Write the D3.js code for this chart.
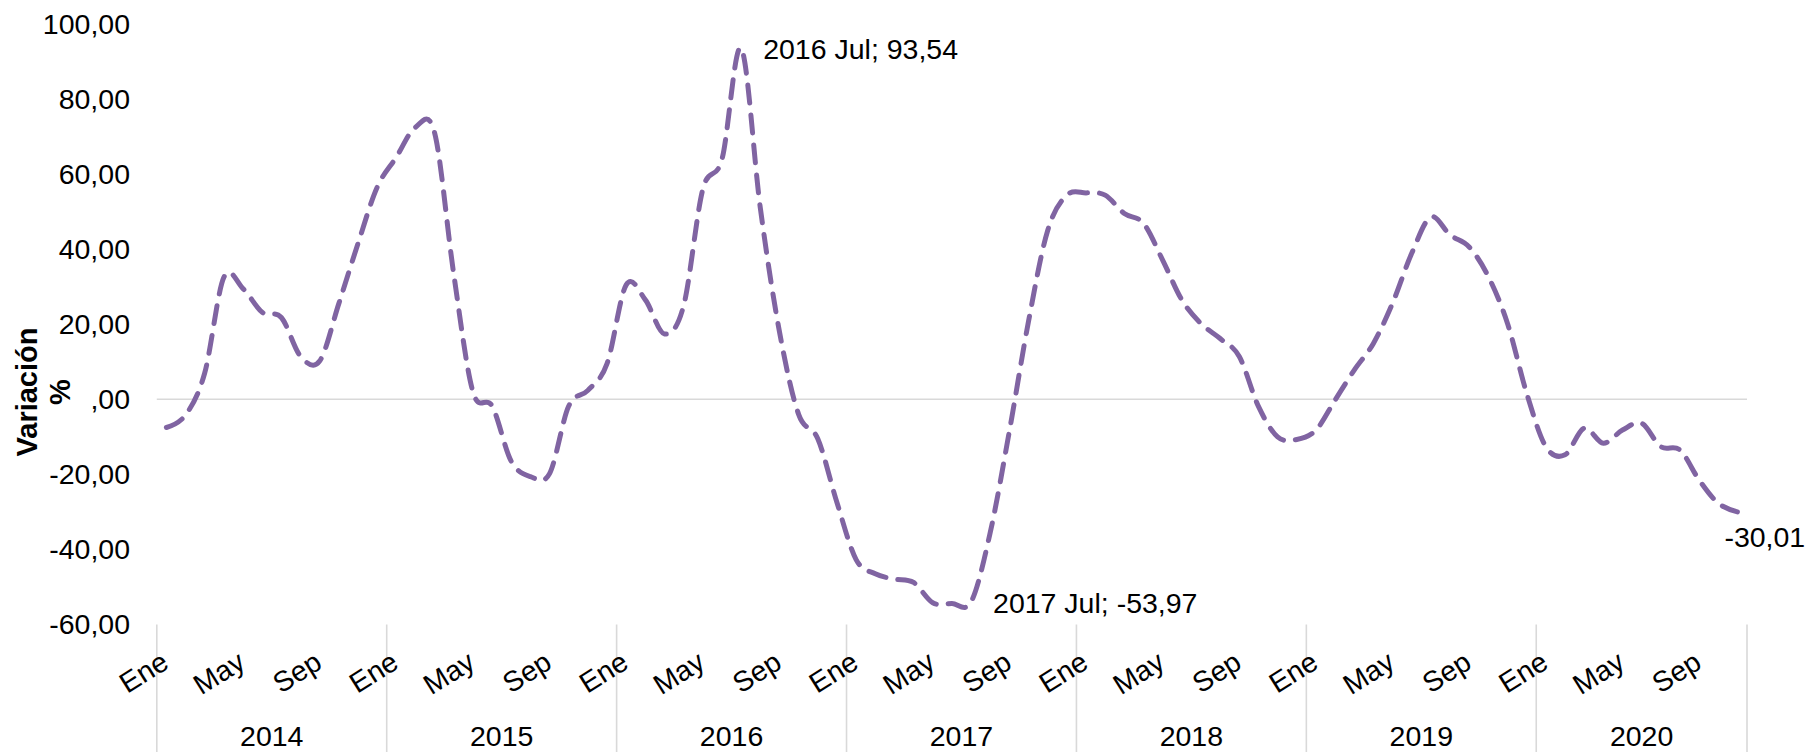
<!DOCTYPE html>
<html>
<head>
<meta charset="utf-8">
<script src="https://cdn.jsdelivr.net/npm/d3@7"></script>
<style>
  body { margin: 0; background: #fff; }
  svg text { font-family: "Liberation Sans", Arial, sans-serif; fill: #000; }
</style>
</head>
<body>
<svg id="chart" width="1808" height="752"></svg>
<script>
// data (monthly % variation)
const years = [2014, 2015, 2016, 2017, 2018, 2019, 2020];
const monthNames = ["Ene", "Feb", "Mar", "Abr", "May", "Jun", "Jul", "Ago", "Sep", "Oct", "Nov", "Dic"];
const shownMonths = ["Ene", "May", "Sep"];
const yTicks = [-60, -40, -20, 0, 20, 40, 60, 80, 100];

const v2014 = [-7.5, -4.2, 7.0, 32.5, 29.5, 23.2, 21.8, 11.5, 10.2, 25.5, 41.5, 56.5];
const v2015 = [64.5, 72.5, 71.0, 33.3, 2.0, -1.8, -16.5, -20.6, -19.8, -1.8, 2.4, 9.5];
const v2016 = [30.5, 26.5, 17.4, 25.0, 56.0, 64.0, 93.54, 51.0, 18.0, -4.0, -10.5, -27.5];
const v2017 = [-42.7, -46.5, -47.9, -48.8, -54.2, -54.4, -53.97, -35.5, -8.5, 20.8, 45.0, 54.4];
const v2018 = [55.0, 54.4, 49.5, 46.9, 37.1, 26.5, 20.2, 16.2, 11.4, -1.9, -10.0, -10.7];
const v2019 = [-8.2, -0.2, 7.8, 14.9, 25.6, 38.9, 48.6, 43.8, 40.6, 32.7, 20.2, 1.6];
const v2020 = [-12.6, -14.8, -7.7, -11.7, -8.2, -6.4, -12.6, -13.5, -21.5, -27.7, -30.01];

const series = [v2014, v2015, v2016, v2017, v2018, v2019, v2020];
// points that carry a data label (index into the flat series)
const labelled = [30, 42, 82];


let svg = d3.select("#chart");
let plot = { left: 156.8, right: 1747, top: 24, bottom: 624.5 };

let cats = [];
years.forEach(function(yr, yi){
    series[yi].forEach(function(v, mi){
        cats.push({ year: yr, month: mi, value: v });
    });
});

let x = d3.scaleBand().domain(d3.range(cats.length)).range([plot.left, plot.right]);
let y = d3.scaleLinear().domain([-60, 100]).range([plot.bottom, plot.top]);
let cx = function(i){ return x(i) + x.bandwidth() / 2; };

let loc = d3.formatLocale({ decimal: ",", thousands: ".", grouping: [3], currency: ["", ""], minus: "-" });
let fmt2 = loc.format(".2f");
let yFmt = function(d){ return d === 0 ? ",00" : fmt2(d); };

// zero gridline
svg.append("line")
    .attr("x1", plot.left).attr("x2", plot.right)
    .attr("y1", y(0)).attr("y2", y(0))
    .attr("stroke", "#d9d9d9").attr("stroke-width", 1.6);

// y axis labels
svg.append("g")
    .attr("transform", "translate(130,0)")
    .call(d3.axisLeft(y).tickValues(yTicks).tickSize(0).tickPadding(0).tickFormat(yFmt))
    .call(function(g){ g.select(".domain").remove(); })
    .attr("font-size", 28.5)
    .attr("font-family", null)
    .selectAll("text").attr("dy", "0.33em");

// y axis title
let ttl = svg.append("g").attr("font-weight", "bold").attr("font-size", 29);
ttl.append("text").attr("transform", "translate(36.5,392) rotate(-90)")
    .attr("text-anchor", "middle").text("Variación");
ttl.append("text").attr("transform", "translate(70,392) rotate(-90)")
    .attr("text-anchor", "middle").text("%");

// year dividers of the two level category axis
let yearStarts = [];
cats.forEach(function(c, i){ if (c.month === 0) yearStarts.push(i); });
let divX = yearStarts.map(function(i){ return x(i); }).concat([plot.right]);
svg.append("g").selectAll("line")
    .data(divX)
    .enter().append("line")
        .attr("x1", function(d){ return d; }).attr("x2", function(d){ return d; })
        .attr("y1", plot.bottom).attr("y2", 752)
        .attr("stroke", "#d9d9d9").attr("stroke-width", 1.6);

// month labels
svg.append("g").attr("font-size", 28.5)
    .selectAll("text")
    .data(cats.map(function(c, i){ return { c: c, i: i }; })
              .filter(function(d){ return shownMonths.indexOf(monthNames[d.c.month]) >= 0; }))
    .enter().append("text")
        .attr("text-anchor", "end")
        .attr("transform", function(d){ return "translate(" + (cx(d.i) + 4) + ",667) rotate(-32)"; })
        .text(function(d){ return monthNames[d.c.month]; });

// year labels
svg.append("g").attr("font-size", 28.5)
    .selectAll("text")
    .data(years)
    .enter().append("text")
        .attr("text-anchor", "middle")
        .attr("x", function(d, k){
            let a = divX[k], b = divX[k + 1];
            return (a + b) / 2;
        })
        .attr("y", 746)
        .text(function(d){ return d; });

// the series
let line = d3.line()
    .x(function(d, i){ return cx(i); })
    .y(function(d){ return y(d.value); })
    .curve(d3.curveCatmullRom.alpha(0));

svg.append("path")
    .datum(cats)
    .attr("d", line)
    .attr("fill", "none")
    .attr("stroke", "#8064A2")
    .attr("stroke-width", 5)
    .attr("stroke-linecap", "round")
    .attr("stroke-dasharray", "18,12");

// data labels
let last = cats.length - 1;
svg.append("g").attr("font-size", 28.5)
    .selectAll("text")
    .data(labelled)
    .enter().append("text")
        .attr("x", function(i){ return i === last ? cx(i) - 13 : cx(i) + 22; })
        .attr("y", function(i){ return i === last ? y(cats[i].value) + 35 : y(cats[i].value) + 11; })
        .text(function(i){
            let c = cats[i];
            if (i === last) return fmt2(c.value);
            return c.year + " " + monthNames[c.month] + "; " + fmt2(c.value);
        });
</script>
</body>
</html>
